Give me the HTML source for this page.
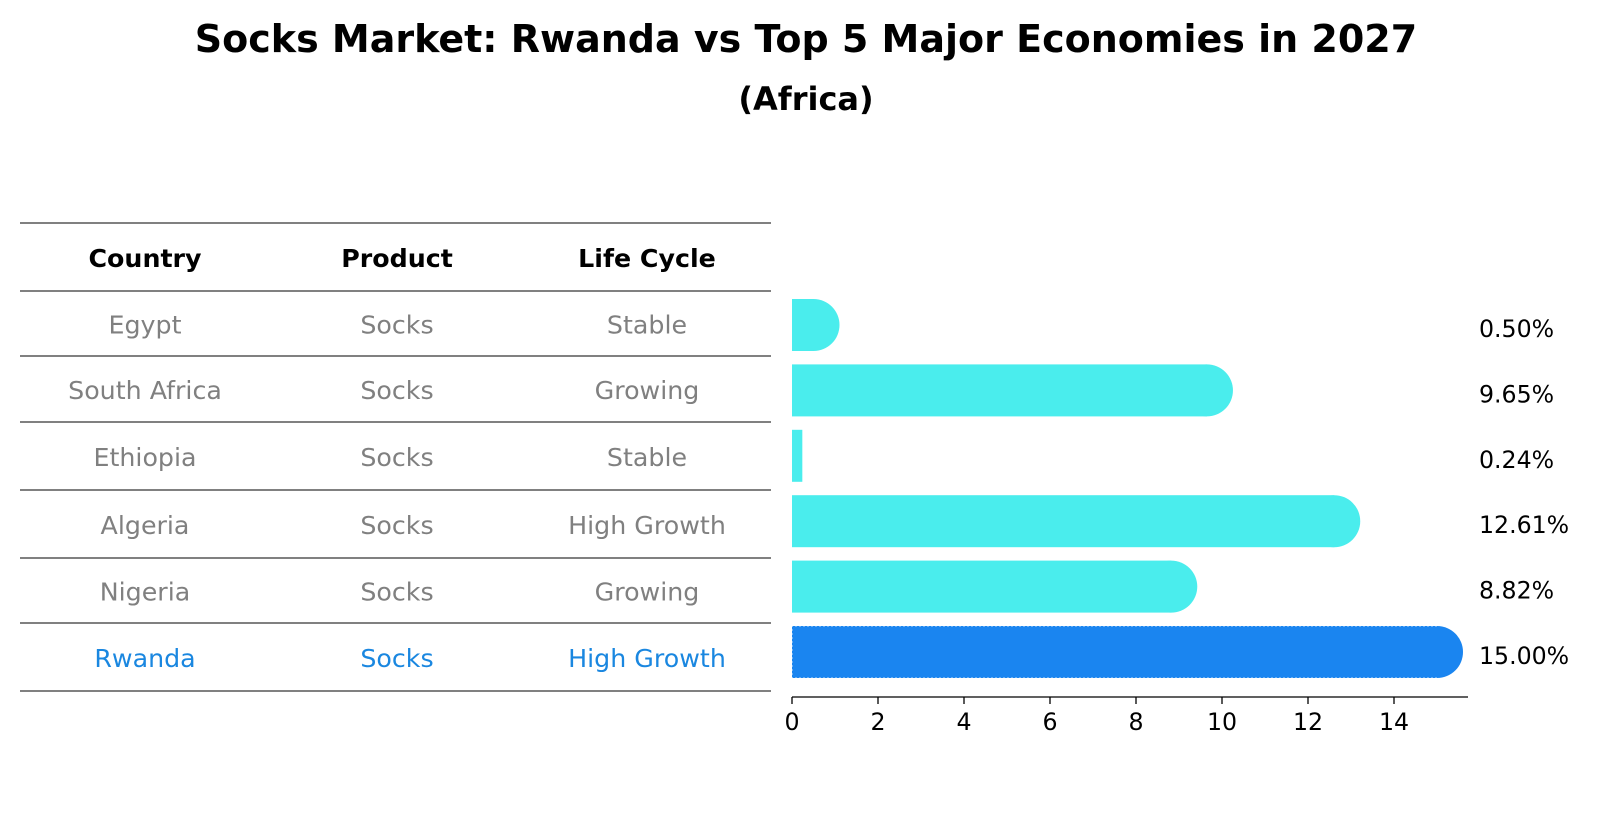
<!DOCTYPE html>
<html><head><meta charset="utf-8"><style>
body{margin:0;background:#fff;font-family:"Liberation Sans","DejaVu Sans",sans-serif}
</style></head><body>
<svg width="1604" height="823" xmlns="http://www.w3.org/2000/svg" font-family="DejaVu Sans, Liberation Sans, sans-serif">
<defs><clipPath id="plotclip"><rect x="792" y="0" width="800" height="823"/></clipPath></defs>
<text x="806" y="52" text-anchor="middle" font-size="38" font-weight="bold">Socks Market: Rwanda vs Top 5 Major Economies in 2027</text>
<text x="806" y="110" text-anchor="middle" font-size="32" font-weight="bold">(Africa)</text>
<g id="table"></g>
<g id="bars"></g>
</svg>
<script>
const countries=["Egypt","South Africa","Ethiopia","Algeria","Nigeria","Rwanda"];
const products=["Socks","Socks","Socks","Socks","Socks","Socks"];
const lifecycles=["Stable","Growing","Stable","High Growth","Growing","High Growth"];
const values=[0.50,9.65,0.24,12.61,8.82,15.00];
const ticks=[0,2,4,6,8,10,12,14];
const NS="http://www.w3.org/2000/svg";
function mk(p,tag,attrs,txt){const e=document.createElementNS(NS,tag);for(const k in attrs)e.setAttribute(k,attrs[k]);if(txt!==undefined)e.textContent=txt;p.appendChild(e);return e;}
const x0=792,unit=43.0,axisY=697,rowH=65.4,firstRow=325,barH=52,r=26,FS=27.5;
const xs=v=>x0+v*unit;
const ys=i=>firstRow+i*rowH;
const tbl=document.getElementById('table');
const lineYs=[223,291,356,422,490,558,623,691];
lineYs.forEach((y,i)=>{const l=mk(tbl,'line',{x1:20,x2:771,y1:y,y2:y,stroke:'#000','stroke-width':1});

});
const colX=[145,397,647];
["Country","Product","Life Cycle"].forEach((h,j)=>{const t=mk(tbl,'text',{x:colX[j],y:(lineYs[0]+lineYs[1])/2+10,'text-anchor':'middle','font-size':FS*0.92,'font-weight':'bold'},h);

});
countries.forEach((c,i)=>{const col=c==="Rwanda"?'#1a87e0':'#808080';const cy=(lineYs[i+1]+lineYs[i+2])/2+10;
[c,products[i],lifecycles[i]].forEach((s,j)=>{const t=mk(tbl,'text',{x:colX[j],y:cy,'text-anchor':'middle','font-size':FS*0.92,fill:col},s);

});});
const g=document.getElementById('bars');
values.forEach((v,i)=>{const isR=countries[i]==="Rwanda";const col=isR?'#1a85f0':'#4aeded';const y=ys(i);
const b=mk(g,'rect',{x:x0,y:y-barH/2,width:Math.max(0,xs(v)-x0),height:barH,fill:col});


if(v>0.3){const c=mk(g,'circle',{cx:xs(v),cy:y,r:r,fill:col,'clip-path':'url(#plotclip)'});

}
if(isR){const o=mk(g,'path',{d:`M${xs(v)},${y-barH/2} H${x0} V${y+barH/2} H${xs(v)}`,fill:'none',stroke:'#fff','stroke-width':1,'stroke-dasharray':'2,2','stroke-opacity':0.7});

}
const t=mk(g,'text',{x:1479,y:y+12,'font-size':FS*0.86},v.toFixed(2)+'%');

});
const ax=mk(g,'line',{x1:x0,x2:1468,y1:axisY,y2:axisY,stroke:'#000','stroke-width':1.3});


ticks.forEach(tv=>{const tk=mk(g,'line',{x1:xs(tv),x2:xs(tv),y1:axisY,y2:axisY+7,stroke:'#000','stroke-width':1.3});


const tl=mk(g,'text',{x:xs(tv),y:axisY+33,'text-anchor':'middle','font-size':FS*0.86},String(tv));

});
</script>
</body></html>
